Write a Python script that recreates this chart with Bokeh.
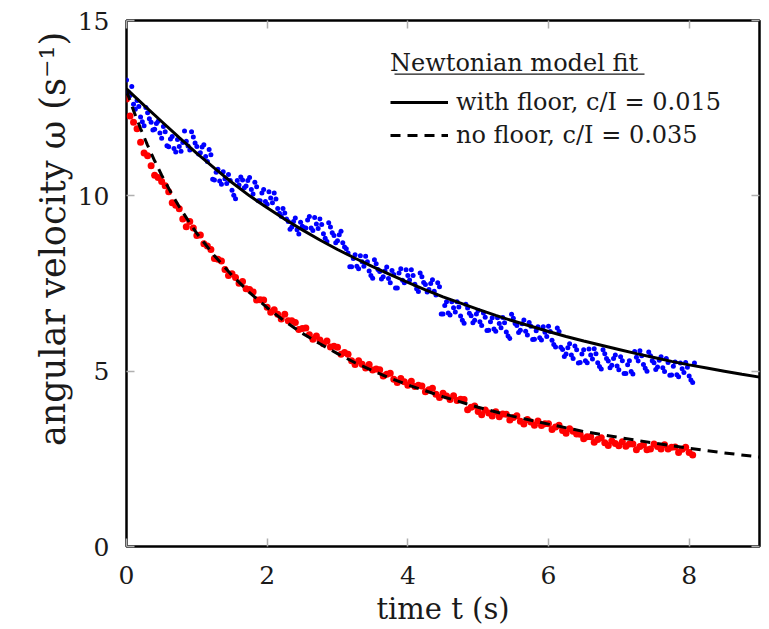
from bokeh.plotting import figure
from bokeh.models import (Range1d, LinearAxis, Legend, LegendItem, FixedTicker,
                          BoxAnnotation, ColumnDataSource)
from bokeh.embed import file_html
from bokeh.resources import INLINE

# ---- data ----
time_s = [0.00, 0.05, 0.10, 0.15, 0.20, 0.25, 0.30, 0.35, 0.40, 0.45, 0.50, 0.55, 0.60, 0.65, 0.70, 0.75,
          0.80, 0.85, 0.90, 0.95, 1.00, 1.05, 1.10, 1.15, 1.20, 1.25, 1.30, 1.35, 1.40, 1.45, 1.50, 1.55,
          1.60, 1.65, 1.70, 1.75, 1.80, 1.85, 1.90, 1.95, 2.00, 2.05, 2.10, 2.15, 2.20, 2.25, 2.30, 2.35,
          2.40, 2.45, 2.50, 2.55, 2.60, 2.65, 2.70, 2.75, 2.80, 2.85, 2.90, 2.95, 3.00, 3.05, 3.10, 3.15,
          3.20, 3.25, 3.30, 3.35, 3.40, 3.45, 3.50, 3.55, 3.60, 3.65, 3.70, 3.75, 3.80, 3.85, 3.90, 3.95,
          4.00, 4.05, 4.10, 4.15, 4.20, 4.25, 4.30, 4.35, 4.40, 4.45, 4.50, 4.55, 4.60, 4.65, 4.70, 4.75,
          4.80, 4.85, 4.90, 4.95, 5.00, 5.05, 5.10, 5.15, 5.20, 5.25, 5.30, 5.35, 5.40, 5.45, 5.50, 5.55,
          5.60, 5.65, 5.70, 5.75, 5.80, 5.85, 5.90, 5.95, 6.00, 6.05, 6.10, 6.15, 6.20, 6.25, 6.30, 6.35,
          6.40, 6.45, 6.50, 6.55, 6.60, 6.65, 6.70, 6.75, 6.80, 6.85, 6.90, 6.95, 7.00, 7.05, 7.10, 7.15,
          7.20, 7.25, 7.30, 7.35, 7.40, 7.45, 7.50, 7.55, 7.60, 7.65, 7.70, 7.75, 7.80, 7.85, 7.90, 7.95,
          8.00, 8.05]

time_s_b = [0.025, 0.075, 0.125, 0.175, 0.225, 0.275, 0.325, 0.375, 0.425, 0.475, 0.525, 0.575, 0.625, 0.675,
            0.725, 0.775, 0.825, 0.875, 0.925, 0.975, 1.025, 1.075, 1.125, 1.175, 1.225, 1.275, 1.325, 1.375,
            1.425, 1.475, 1.525, 1.575, 1.625, 1.675, 1.725, 1.775, 1.825, 1.875, 1.925, 1.975, 2.025, 2.075,
            2.125, 2.175, 2.225, 2.275, 2.325, 2.375, 2.425, 2.475, 2.525, 2.575, 2.625, 2.675, 2.725, 2.775,
            2.825, 2.875, 2.925, 2.975, 3.025, 3.075, 3.125, 3.175, 3.225, 3.275, 3.325, 3.375, 3.425, 3.475,
            3.525, 3.575, 3.625, 3.675, 3.725, 3.775, 3.825, 3.875, 3.925, 3.975, 4.025, 4.075, 4.125, 4.175,
            4.225, 4.275, 4.325, 4.375, 4.425, 4.475, 4.525, 4.575, 4.625, 4.675, 4.725, 4.775, 4.825, 4.875,
            4.925, 4.975, 5.025, 5.075, 5.125, 5.175, 5.225, 5.275, 5.325, 5.375, 5.425, 5.475, 5.525, 5.575,
            5.625, 5.675, 5.725, 5.775, 5.825, 5.875, 5.925, 5.975, 6.025, 6.075, 6.125, 6.175, 6.225, 6.275,
            6.325, 6.375, 6.425, 6.475, 6.525, 6.575, 6.625, 6.675, 6.725, 6.775, 6.825, 6.875, 6.925, 6.975,
            7.025, 7.075, 7.125, 7.175, 7.225, 7.275, 7.325, 7.375, 7.425, 7.475, 7.525, 7.575, 7.625, 7.675,
            7.725, 7.775, 7.825, 7.875, 7.925, 7.975, 8.025, 8.075]

omega_floor = [13.30, 12.86, 12.61, 12.72, 12.25, 12.00, 12.37, 12.10, 11.90, 12.13, 11.64, 11.83, 11.40, 11.69, 11.25, 11.41,
               11.52, 11.56, 11.31, 11.68, 11.41, 11.23, 11.46, 10.98, 11.17, 10.45, 10.76, 10.33, 10.49, 10.61, 10.16, 9.92,
               10.31, 10.45, 10.28, 10.52, 10.05, 10.26, 9.86, 10.18, 9.76, 9.94, 10.08, 9.64, 9.42, 9.51, 9.27, 9.11,
               9.37, 8.91, 9.13, 9.08, 9.41, 9.01, 9.20, 9.34, 8.92, 8.70, 9.11, 8.87, 8.72, 8.99, 8.54, 8.37,
               7.98, 8.32, 7.92, 8.12, 8.28, 7.86, 7.65, 8.06, 7.84, 7.69, 7.97, 7.52, 7.76, 7.37, 7.92, 7.52,
               7.73, 7.89, 7.48, 7.27, 7.69, 7.47, 7.33, 7.61, 7.17, 7.41, 6.63, 6.98, 6.60, 6.81, 6.98, 6.57,
               6.37, 6.80, 6.58, 6.45, 6.73, 6.30, 6.54, 6.17, 6.52, 6.14, 6.36, 6.53, 6.12, 5.93, 6.51, 6.30,
               6.17, 6.46, 6.03, 6.28, 5.91, 6.27, 5.89, 6.11, 6.28, 5.88, 5.69, 6.13, 5.62, 5.49, 5.78, 5.36,
               5.61, 5.25, 5.61, 5.24, 5.46, 5.64, 5.24, 5.06, 5.50, 5.29, 5.17, 5.46, 5.04, 5.30, 4.93, 5.30,
               4.92, 5.40, 5.58, 5.19, 5.00, 5.44, 5.24, 5.12, 5.41, 4.99, 5.25, 4.89, 5.26, 4.84, 5.07, 5.25,
               4.86, 4.68]

omega_floor_b = [12.96, 13.12, 12.47, 12.55, 12.11, 12.52, 12.20, 11.88, 12.06, 11.79, 11.98, 11.43, 11.62, 11.35,
                 11.61, 11.27, 11.85, 11.42, 11.83, 11.51, 11.19, 11.39, 11.12, 11.32, 10.47, 10.67, 10.42, 10.69,
                 10.35, 10.44, 10.02, 10.44, 10.54, 10.23, 10.44, 10.18, 10.39, 9.86, 10.08, 9.84, 10.12, 9.80,
                 9.91, 9.50, 9.64, 9.34, 9.05, 9.27, 9.03, 9.25, 9.09, 9.31, 9.08, 9.38, 9.07, 9.18,
                 8.79, 9.23, 8.95, 8.66, 8.89, 8.66, 8.49, 7.98, 8.21, 7.99, 8.29, 7.99, 8.12, 7.73,
                 8.18, 7.90, 7.63, 7.86, 7.64, 7.87, 7.37, 7.80, 7.59, 7.89, 7.60, 7.73, 7.35, 7.80,
                 7.53, 7.26, 7.50, 7.28, 7.52, 6.63, 6.87, 6.66, 6.98, 6.69, 6.83, 6.45, 6.91, 6.65,
                 6.38, 6.63, 6.41, 6.66, 6.16, 6.41, 6.20, 6.52, 6.24, 6.38, 6.00, 6.62, 6.36, 6.10,
                 6.35, 6.14, 6.39, 5.90, 6.15, 5.95, 6.27, 5.99, 6.13, 5.76, 6.23, 5.68, 5.42, 5.67,
                 5.46, 5.72, 5.23, 5.49, 5.30, 5.63, 5.35, 5.50, 5.13, 5.61, 5.36, 5.10, 5.36, 5.15,
                 5.41, 4.93, 5.18, 4.99, 5.56, 5.29, 5.44, 5.08, 5.55, 5.30, 5.05, 5.31, 5.10, 5.36,
                 4.88, 5.14, 4.90, 5.23, 4.96, 5.11, 4.75, 5.23]

omega_nofloor = [12.76, 12.28, 12.10, 11.91, 11.53, 11.22, 11.14, 10.86, 10.59, 10.52, 10.41, 10.29, 10.12, 9.80, 9.73, 9.63,
                 9.34, 9.12, 9.27, 9.08, 8.87, 8.88, 8.63, 8.57, 8.47, 8.21, 8.19, 8.14, 7.90, 7.73, 7.78, 7.67,
                 7.51, 7.56, 7.35, 7.33, 7.26, 7.03, 7.04, 7.03, 6.82, 6.68, 6.75, 6.62, 6.49, 6.62, 6.44, 6.44,
                 6.39, 6.19, 6.22, 6.23, 6.04, 5.91, 6.00, 5.89, 5.78, 5.86, 5.69, 5.71, 5.68, 5.48, 5.53, 5.48,
                 5.30, 5.19, 5.30, 5.20, 5.09, 5.19, 5.03, 5.06, 5.04, 4.86, 4.91, 4.94, 4.77, 4.68, 4.79, 4.70,
                 4.60, 4.71, 4.56, 4.60, 4.58, 4.41, 4.47, 4.51, 4.34, 4.25, 4.37, 4.29, 4.19, 4.30, 4.16, 4.20,
                 4.19, 3.90, 3.97, 4.01, 3.85, 3.76, 3.89, 3.81, 3.72, 3.84, 3.70, 3.78, 3.77, 3.61, 3.68, 3.73,
                 3.57, 3.49, 3.62, 3.55, 3.46, 3.58, 3.45, 3.50, 3.50, 3.34, 3.41, 3.46, 3.31, 3.23, 3.36, 3.29,
                 3.21, 3.20, 3.07, 3.13, 3.13, 2.97, 3.05, 3.10, 2.96, 2.88, 3.01, 2.94, 2.87, 2.99, 2.86, 2.92,
                 2.92, 2.76, 2.85, 2.90, 2.76, 2.78, 2.92, 2.85, 2.78, 2.90, 2.78, 2.83, 2.84, 2.68, 2.77, 2.83,
                 2.68, 2.61]

fit_floor_t = [0.0, 0.25, 0.5, 0.75, 1.0, 1.25, 1.5, 1.75, 2.0, 2.25, 2.5, 2.75, 3.0, 3.25, 3.5, 3.75, 4.0, 4.25, 4.5,
               4.75, 5.0, 5.25, 5.5, 5.75, 6.0, 6.25, 6.5, 6.75, 7.0, 7.25, 7.5, 7.75, 8.0, 8.25, 8.5, 8.75, 9.0]
fit_floor_w = [13.05, 12.58, 12.12, 11.66, 11.21, 10.79, 10.38, 10.00, 9.66, 9.33, 9.03, 8.74, 8.47, 8.22, 7.98, 7.75,
               7.53, 7.32, 7.12, 6.94, 6.76, 6.59, 6.43, 6.28, 6.13, 5.99, 5.86, 5.74, 5.62, 5.50, 5.39, 5.28, 5.18,
               5.09, 5.00, 4.91, 4.83]

fit_nofloor_t = [0.0, 0.1, 0.2, 0.3, 0.4, 0.5, 0.625, 0.75, 0.875, 1.0, 1.25, 1.5, 1.75, 2.0, 2.25, 2.5, 2.75, 3.0,
                 3.25, 3.5, 3.75, 4.0, 4.5, 5.0, 5.5, 6.0, 6.5, 7.0, 7.5, 8.0, 8.5, 9.0]
fit_nofloor_w = [13.00, 12.43, 11.92, 11.44, 11.00, 10.59, 10.12, 9.69, 9.30, 8.93, 8.29, 7.73, 7.24, 6.81, 6.42, 6.08,
                 5.78, 5.50, 5.24, 5.01, 4.80, 4.61, 4.27, 3.97, 3.71, 3.49, 3.28, 3.11, 2.95, 2.80, 2.67, 2.55]

x_ticks = [0, 2, 4, 6, 8]
y_ticks = [0, 5, 10, 15]

legend_title = "Newtonian model fit"
label_floor = "with floor, c/I = 0.015"
label_nofloor = "no floor, c/I = 0.035"
x_title = "time t (s)"
y_title = "angular velocity ω (s⁻¹)"

FONT = "DejaVu Serif"
TEXT = "#1a1a1a"

p = figure(width=761, height=629, x_range=Range1d(0, 9), y_range=Range1d(0, 15),
           output_backend="svg", toolbar_location=None,
           min_border_left=126, min_border_right=2, min_border_top=20, min_border_bottom=83)
p.outline_line_color = "black"
p.outline_line_width = 2.5
p.grid.visible = False
p.background_fill_color = "white"
p.border_fill_color = "white"


def style_axis(ax, ticks, show_labels):
    ax.ticker = FixedTicker(ticks=ticks)
    ax.axis_line_color = None
    ax.major_tick_in = 8
    ax.major_tick_out = 0
    ax.major_tick_line_color = "#b0b0b0"
    ax.major_tick_line_width = 1.5
    ax.minor_tick_line_color = None
    ax.major_label_text_font = FONT
    ax.major_label_text_font_size = "25px"
    ax.major_label_text_color = TEXT
    ax.axis_label_text_font = FONT
    ax.axis_label_text_font_style = "normal"
    ax.axis_label_text_color = TEXT
    if not show_labels:
        ax.major_label_overrides = {t: "" for t in ticks}
        ax.major_label_standoff = 0


style_axis(p.xaxis[0], x_ticks, True)
style_axis(p.yaxis[0], y_ticks, True)
p.xaxis[0].axis_label = x_title
p.xaxis[0].axis_label_text_font_size = "29px"
p.xaxis[0].major_label_standoff = 19
p.xaxis[0].axis_label_standoff = 5
# leading no-break spaces shift the visible title towards the top, as in the original
p.yaxis[0].axis_label = "\u00a0" * 8 + y_title
p.yaxis[0].axis_label_text_font_size = "35px"
p.yaxis[0].major_label_standoff = 17
p.yaxis[0].axis_label_standoff = 2

top_ax = LinearAxis()
style_axis(top_ax, x_ticks, False)
right_ax = LinearAxis()
style_axis(right_ax, y_ticks, False)
p.add_layout(top_ax, "above")
p.add_layout(right_ax, "right")

src_floor = ColumnDataSource(dict(t=time_s, w=omega_floor))
src_floor_b = ColumnDataSource(dict(t=time_s_b, w=omega_floor_b))
src_nofloor = ColumnDataSource(dict(t=time_s, w=omega_nofloor))
p.scatter("t", "w", source=src_floor, size=5, fill_color="#0000ff", line_color=None)
p.scatter("t", "w", source=src_floor_b, size=5, fill_color="#0000ff", line_color=None)
p.scatter("t", "w", source=src_nofloor, size=7, fill_color="#ff0000", line_color=None)

solid = p.line(fit_floor_t, fit_floor_w, line_color="black", line_width=3)
dashed = p.line(fit_nofloor_t, fit_nofloor_w, line_color="black", line_width=3, line_dash="10 7")

legend = Legend(items=[LegendItem(label=label_floor, renderers=[solid]),
                       LegendItem(label=label_nofloor, renderers=[dashed])],
                title=legend_title, location=(264, 397),
                label_text_font=FONT, label_text_font_size="24px", label_text_color=TEXT,
                title_text_font=FONT, title_text_font_size="24px", title_text_font_style="normal",
                title_text_color=TEXT,
                glyph_width=58, glyph_height=20, label_standoff=8, spacing=5, padding=4, margin=0,
                title_standoff=11, border_line_color=None, background_fill_alpha=0)
p.add_layout(legend)

underline = BoxAnnotation(left=268, right=518, top=473, bottom=471.8,
                          left_units="screen", right_units="screen", top_units="screen", bottom_units="screen",
                          fill_color=TEXT, fill_alpha=1, line_color=None)
p.add_layout(underline)

open("out.html", "w").write(file_html(p, INLINE))
